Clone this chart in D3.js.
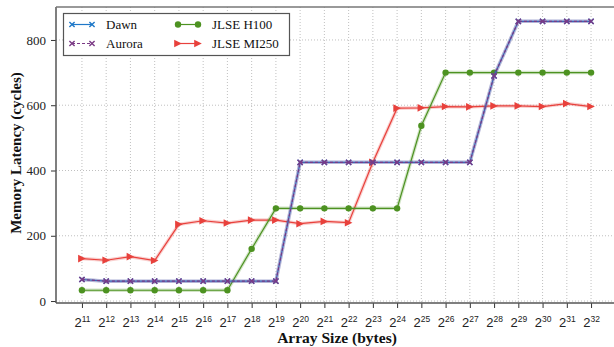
<!DOCTYPE html>
<html>
<head>
<meta charset="utf-8">
<script src="https://cdn.jsdelivr.net/npm/d3@7"></script>
<style>
  html, body { margin: 0; padding: 0; background: #fff; }
  svg { display: block; font-family: "Liberation Serif", "DejaVu Serif", serif; }
</style>
</head>
<body>
<svg id="chart" width="614" height="347"></svg>
<script>
// Array sizes as powers of two (2^11 .. 2^32)
const exponents = d3.range(11, 33);

// Latency in cycles per array size
const dawn   = [66, 61, 61, 61, 61, 61, 61, 61, 61, 425, 425, 425, 425, 425, 425, 425, 425, 690, 857, 857, 857, 857];
const aurora = [66, 61, 61, 61, 61, 61, 61, 61, 61, 425, 425, 425, 425, 425, 425, 425, 425, 690, 857, 857, 857, 857];
const h100   = [33, 33, 33, 33, 33, 33, 33, 160, 284, 284, 284, 284, 284, 284, 537, 700, 700, 700, 700, 700, 700, 700];
const mi250  = [130, 125, 136, 124, 235, 246, 239, 248, 248, 237, 244, 240, 425, 591, 592, 596, 595, 598, 598, 596, 605, 596];

const yTicks = [0, 200, 400, 600, 800];

const svg = d3.select("#chart");
const W = 614, H = 347;
const padL = 56, padT = 7, padB = 303, padR = 617;

const x = d3.scaleLinear().domain([9.93, 33.07]).range([padL, padR]);
const y = d3.scaleLinear().domain([-6, 901]).range([padB, padT]);

// grid
const grid = svg.append("g");
grid.selectAll("line.gx").data(exponents).join("line")
  .attr("x1", d => x(d)).attr("x2", d => x(d))
  .attr("y1", padT).attr("y2", padB)
  .attr("stroke", "#b0b0b0").attr("stroke-width", 0.8).attr("stroke-dasharray", "1,2");
grid.selectAll("line.gy").data(yTicks).join("line")
  .attr("x1", padL).attr("x2", W)
  .attr("y1", d => y(d)).attr("y2", d => y(d))
  .attr("stroke", "#b0b0b0").attr("stroke-width", 0.8).attr("stroke-dasharray", "1,2");

// axes
const xAxis = svg.append("g").attr("transform", `translate(0,${padB})`)
  .call(d3.axisBottom(x).tickValues(exponents).tickSize(5).tickFormat(""));
xAxis.select(".domain").remove();
xAxis.selectAll(".tick line").attr("stroke", "#333").attr("stroke-width", 1);
xAxis.selectAll(".tick").each(function(d) {
  const t = d3.select(this).append("text").attr("y", 24).attr("fill", "#222")
    .attr("text-anchor", "middle").style("font-size", "13px");
  t.append("tspan").text("2");
  t.append("tspan").attr("dy", -5.5).style("font-size", "8.5px").text(String(d));
});

const yAxis = svg.append("g").attr("transform", `translate(${padL},0)`)
  .call(d3.axisLeft(y).tickValues(yTicks).tickSize(5).tickPadding(5));
yAxis.select(".domain").remove();
yAxis.selectAll(".tick line").attr("stroke", "#333").attr("stroke-width", 1);
yAxis.selectAll(".tick text").attr("fill", "#222").style("font-size", "13px")
  .style("font-family", "Liberation Serif, serif");

// frame
svg.append("line").attr("x1", padL).attr("x2", padL).attr("y1", padT).attr("y2", padB)
  .attr("stroke", "#555").attr("stroke-width", 1.5);
svg.append("line").attr("x1", padL).attr("x2", W).attr("y1", padB).attr("y2", padB)
  .attr("stroke", "#555").attr("stroke-width", 1.5);
svg.append("line").attr("x1", padL).attr("x2", W).attr("y1", padT).attr("y2", padT)
  .attr("stroke", "#777").attr("stroke-width", 1.5);

// axis titles
svg.append("text").attr("x", 337).attr("y", 343).attr("text-anchor", "middle")
  .style("font-size", "15.5px").style("font-weight", "bold").attr("fill", "#111").text("Array Size (bytes)");
svg.append("text").attr("transform", `translate(21,153) rotate(-90)`)
  .attr("text-anchor", "middle").style("font-size", "15px").style("font-weight", "bold")
  .attr("fill", "#111").text("Memory Latency (cycles)");

// series
const series = [
  { name: "JLSE MI250", vals: mi250, color: "#e8413c", marker: "tri", dash: null },
  { name: "JLSE H100", vals: h100, color: "#4d9221", marker: "circle", dash: null },
  { name: "Dawn", vals: dawn, color: "#1f78c8", marker: "x", dash: null },
  { name: "Aurora", vals: aurora, color: "#7b3a86", marker: "x", dash: "3,2" },
];

const line = d3.line().x((d, i) => x(exponents[i])).y(d => y(d));

function drawMarker(g, type, cx, cy, color) {
  if (type === "circle") {
    g.append("circle").attr("cx", cx).attr("cy", cy).attr("r", 3.2).attr("fill", color);
  } else if (type === "tri") {
    const s = 3.8;
    g.append("path").attr("d", `M${cx + s},${cy} L${cx - s},${cy - s} L${cx - s},${cy + s} Z`).attr("fill", color);
  } else {
    const s = 2.6;
    g.append("path").attr("d", `M${cx - s},${cy - s} L${cx + s},${cy + s} M${cx - s},${cy + s} L${cx + s},${cy - s}`)
      .attr("stroke", color).attr("stroke-width", 1.4);
  }
}

series.forEach(s => {
  const g = svg.append("g");
  // soft halo behind each line
  g.append("path").datum(s.vals).attr("d", line).attr("fill", "none")
    .attr("stroke", s.color).attr("stroke-opacity", 0.25).attr("stroke-width", 3.5);
  g.append("path").datum(s.vals).attr("d", line).attr("fill", "none")
    .attr("stroke", s.color).attr("stroke-width", 1.2)
    .attr("stroke-dasharray", s.dash);
  s.vals.forEach((v, i) => drawMarker(g, s.marker, x(exponents[i]), y(v), s.color));
});

// legend
const lg = svg.append("g");
lg.append("rect").attr("x", 63.5).attr("y", 13.5).attr("width", 226).attr("height", 42)
  .attr("fill", "#fff").attr("stroke", "#555").attr("stroke-width", 1.2);
const legendItems = [
  { name: "Dawn", color: "#1f78c8", marker: "x", dash: null, lx: 70, ly: 24.5 },
  { name: "Aurora", color: "#7b3a86", marker: "x", dash: "3,2", lx: 70, ly: 43.5 },
  { name: "JLSE H100", color: "#4d9221", marker: "circle", dash: null, lx: 176, ly: 24.5 },
  { name: "JLSE MI250", color: "#e8413c", marker: "tri", dash: null, lx: 176, ly: 43.5 },
];
legendItems.forEach(it => {
  lg.append("line").attr("x1", it.lx + 2).attr("x2", it.lx + 22).attr("y1", it.ly).attr("y2", it.ly)
    .attr("stroke", it.color).attr("stroke-width", 1.2).attr("stroke-dasharray", it.dash);
  drawMarker(lg, it.marker, it.lx + 2, it.ly, it.color);
  drawMarker(lg, it.marker, it.lx + 22, it.ly, it.color);
  lg.append("text").attr("x", it.lx + 36).attr("y", it.ly + 4.5).style("font-size", "13px")
    .attr("fill", "#111").text(it.name);
});
</script>
</body>
</html>
